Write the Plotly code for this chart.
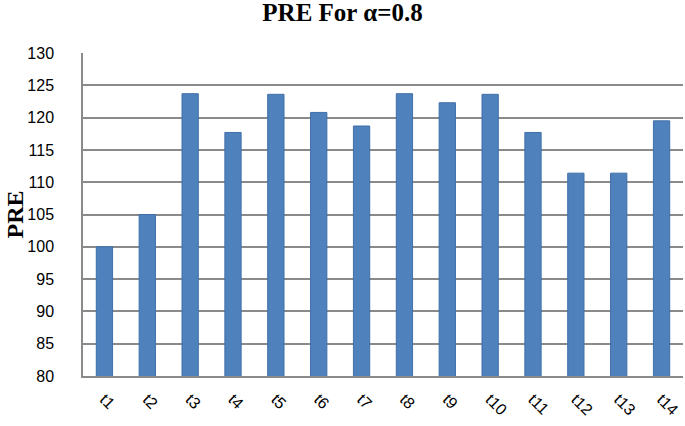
import plotly.graph_objects as go

# data
categories = ['t1', 't2', 't3', 't4', 't5', 't6', 't7',
              't8', 't9', 't10', 't11', 't12', 't13', 't14']
pre_values = [100.0, 105.0, 123.7, 117.7, 123.6, 120.8, 118.7,
              123.7, 122.3, 123.6, 117.7, 111.4, 111.4, 119.5]
y_ticks = [80, 85, 90, 95, 100, 105, 110, 115, 120, 125, 130]

fig = go.Figure(
    go.Bar(
        x=categories,
        y=pre_values,
        marker=dict(color='#4F81BD', line=dict(color='#3F6FA8', width=1)),
    )
)

fig.update_layout(
    width=685,
    height=426,
    plot_bgcolor='white',
    paper_bgcolor='white',
    showlegend=False,
    bargap=0.62,
    margin=dict(l=83, r=2, t=53, b=50, autoexpand=False),
    title=dict(
        text='<b>PRE For α=0.8</b>',
        x=0.5,
        xanchor='center',
        y=0.972,
        yanchor='middle',
        font=dict(family='Liberation Serif', size=25, color='black'),
    ),
)

# y-axis title placed by hand, left of the tick labels
fig.add_annotation(
    text='<b>PRE</b>',
    xref='paper', yref='paper',
    x=-0.115, y=0.5,
    xanchor='center', yanchor='middle',
    textangle=-90,
    showarrow=False,
    font=dict(family='Liberation Serif', size=24, color='black'),
)

fig.update_yaxes(
    range=[80, 130],
    tickvals=y_ticks,
    showgrid=True,
    gridcolor='#8A8A8A',
    gridwidth=1.5,
    showline=True,
    linecolor='#8A8A8A',
    linewidth=1.5,
    zeroline=False,
    ticks='',
    ticklabelstandoff=24,
    tickfont=dict(family='Liberation Sans', size=16, color='black'),
)

fig.update_xaxes(
    showgrid=False,
    showline=True,
    linecolor='#8A8A8A',
    linewidth=1.5,
    ticks='',
    tickangle=45,
    ticklabelstandoff=6,
    tickfont=dict(family='Liberation Sans', size=16, color='black'),
)

# drop the default 8px body margin so the figure fills the window
fig.write_html('out.html', config={'displayModeBar': False},
               post_script="document.body.style.margin='0';")
